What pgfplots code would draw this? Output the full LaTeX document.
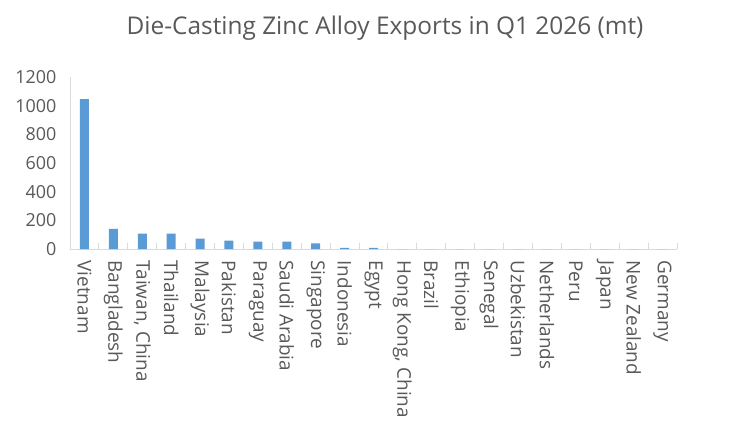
\documentclass[border=0pt]{standalone}
\usepackage{pgfplots}
\pgfplotsset{compat=1.18}
\usepackage{fontspec}
\setmainfont{Open Sans}
\definecolor{txt}{HTML}{595959}
\definecolor{bar}{HTML}{5B9BD5}
\definecolor{axl}{HTML}{D9D9D9}
\begin{document}
\begin{tikzpicture}[x=1bp,y=1bp]
\useasboundingbox (0,0) rectangle (746,423);
\node[text=txt, font=\fontsize{24.5}{28}\selectfont] at (385,395) {Die-Casting Zinc Alloy Exports in Q1 2026 (mt)};
\begin{axis}[
  at={(70bp,174bp)}, anchor=south west,
  scale only axis, width=607bp, height=172bp,
  xmin=-0.5, xmax=20.5, ymin=0, ymax=1200,
  axis lines*=left,
  axis line style={axl, line width=1bp, -},
  ytick={0,200,...,1200},
  major tick length=0pt,
  yticklabel style={text=txt, font=\fontsize{18}{20}\selectfont, xshift=-10bp},
  /pgf/number format/assume math mode=true,
  /pgf/number format/set thousands separator={},
  xtick={0,...,20},
  xticklabels={Vietnam,Bangladesh,{Taiwan, China},Thailand,Malaysia,Pakistan,Paraguay,Saudi Arabia,Singapore,Indonesia,Egypt,{Hong Kong, China},Brazil,Ethiopia,Senegal,Uzbekistan,Netherlands,Peru,Japan,New Zealand,Germany},
  xticklabel style={rotate=-90, anchor=west, text=txt, font=\fontsize{19}{21}\selectfont, xshift=-1bp},
  xticklabel shift=9bp,
  extra x ticks={-0.5,0.5,...,20.5},
  extra x tick labels={},
  extra x tick style={major tick length=6bp, tick align=inside, tick style={axl, line width=1bp}},
  clip=false,
]
\addplot[ybar, bar width=9bp, fill=bar, draw=none] coordinates {
(0,1045) (1,141) (2,108) (3,108) (4,72) (5,58) (6,51) (7,51) (8,39) (9,8) (10,8)
(11,0) (12,0) (13,0) (14,0) (15,0) (16,0) (17,0) (18,0) (19,0) (20,0)
};
\end{axis}
\end{tikzpicture}
\end{document}
